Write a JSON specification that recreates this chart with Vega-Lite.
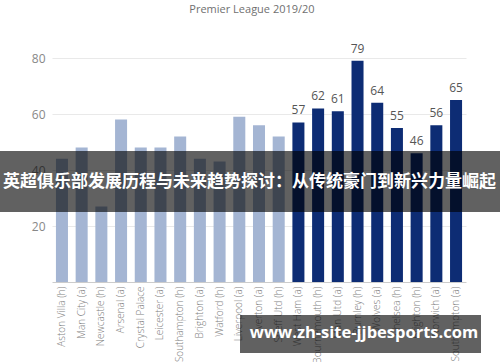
{
  "$schema": "https://vega.github.io/schema/vega-lite/v6.json",
  "width": 414,
  "height": 224,
  "autosize": {"type": "none"},
  "padding": {"left": 52, "top": 58, "right": 34, "bottom": 80},
  "background": "white",
  "title": {
    "text": "Premier League 2019/20",
    "fontSize": 11,
    "fontWeight": "normal",
    "font": "Open Sans",
    "color": "#707070",
    "anchor": "middle",
    "offset": 28,
    "dx": -7
  },
  "config": {
    "view": {"stroke": null},
    "font": "Open Sans"
  },
  "datasets": {
    "points": [
      {"team": "Aston Villa (h)", "pts": 44, "season": "past"},
      {"team": "Man City (a)", "pts": 48, "season": "past"},
      {"team": "Newcastle (h)", "pts": 27, "season": "past"},
      {"team": "Arsenal (a)", "pts": 58, "season": "past"},
      {"team": "Crystal Palace", "pts": 48, "season": "past"},
      {"team": "Leicester (a)", "pts": 48, "season": "past"},
      {"team": "Southampton (h)", "pts": 52, "season": "past"},
      {"team": "Brighton (a)", "pts": 44, "season": "past"},
      {"team": "Watford (h)", "pts": 43, "season": "past"},
      {"team": "Liverpool (a)", "pts": 59, "season": "past"},
      {"team": "Everton (a)", "pts": 56, "season": "past"},
      {"team": "Sheff Utd (h)", "pts": 52, "season": "past"},
      {"team": "West Ham (a)", "pts": 57, "season": "current"},
      {"team": "Bournemouth (h)", "pts": 62, "season": "current"},
      {"team": "Man Utd (a)", "pts": 61, "season": "current"},
      {"team": "Burnley (h)", "pts": 79, "season": "current"},
      {"team": "Wolves (a)", "pts": 64, "season": "current"},
      {"team": "Chelsea (h)", "pts": 55, "season": "current"},
      {"team": "Brighton (h)", "pts": 46, "season": "current"},
      {"team": "Norwich (a)", "pts": 56, "season": "current"},
      {"team": "Southampton (a)", "pts": 65, "season": "current"}
    ],
    "banner": [{"label": "英超俱乐部发展历程与未来趋势探讨：从传统豪门到新兴力量崛起"}],
    "mark": [{"label": "www.zh-site-jjbesports.com"}]
  },
  "layer": [
    {
      "data": {"name": "points"},
      "mark": {"type": "bar"},
      "encoding": {
        "x": {
          "field": "team",
          "type": "nominal",
          "sort": null,
          "scale": {"paddingInner": 0.39, "paddingOuter": 0.2},
          "axis": {
            "title": null,
            "labelAngle": -90,
            "labelFontSize": 10,
            "labelFontWeight": 300,
            "labelColor": "#808080",
            "labelPadding": 4,
            "ticks": false,
            "domainColor": "#cccccc",
            "labelLimit": 120,
            "labelOverlap": false
          }
        },
        "y": {
          "field": "pts",
          "type": "quantitative",
          "scale": {"domain": [0, 80]},
          "axis": {
            "title": null,
            "values": [20, 40, 60, 80],
            "domain": false,
            "ticks": false,
            "labelFontSize": 12,
            "labelColor": "#888888",
            "labelPadding": 7,
            "gridColor": "#e9e9e9"
          }
        },
        "color": {
          "field": "season",
          "type": "nominal",
          "scale": {"domain": ["past", "current"], "range": ["#a4b5d3", "#0d2c74"]},
          "legend": null
        }
      }
    },
    {
      "data": {"name": "points"},
      "transform": [{"filter": "datum.season === 'current'"}],
      "mark": {"type": "text", "baseline": "bottom", "dy": -5, "fontSize": 12, "color": "#555555"},
      "encoding": {
        "x": {"field": "team", "type": "nominal", "sort": null},
        "y": {"field": "pts", "type": "quantitative"},
        "text": {"field": "pts", "type": "quantitative"}
      }
    },
    {
      "data": {"name": "banner"},
      "mark": {"type": "rect", "color": "#000000", "opacity": 0.62},
      "encoding": {
        "x": {"value": -52},
        "x2": {"value": 448},
        "y": {"datum": 25},
        "y2": {"datum": 46.8}
      }
    },
    {
      "data": {"name": "banner"},
      "mark": {"type": "text", "align": "left", "baseline": "middle", "fontSize": 17, "fontWeight": "bold", "font": "Noto Sans CJK SC", "color": "white"},
      "encoding": {
        "x": {"value": -49},
        "y": {"datum": 35.7},
        "text": {"field": "label", "type": "nominal"}
      }
    },
    {
      "data": {"name": "mark"},
      "mark": {"type": "rect", "color": "#000000", "opacity": 0.62},
      "encoding": {
        "x": {"value": 188},
        "x2": {"value": 429},
        "y": {"datum": -11.8},
        "y2": {"datum": -25.4}
      }
    },
    {
      "data": {"name": "mark"},
      "mark": {"type": "text", "align": "center", "baseline": "middle", "fontSize": 16.5, "fontWeight": "bold", "font": "Open Sans", "color": "white"},
      "encoding": {
        "x": {"value": 312},
        "y": {"datum": -18.3},
        "text": {"field": "label", "type": "nominal"}
      }
    }
  ]
}
